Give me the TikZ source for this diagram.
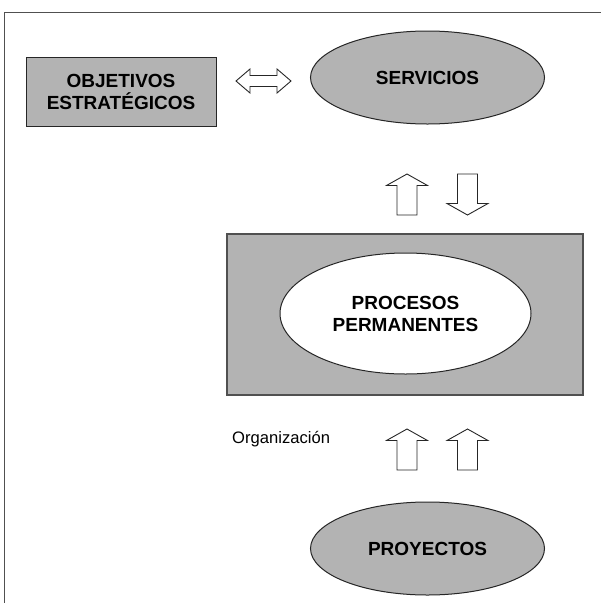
\documentclass[tikz,border=0pt]{standalone}
\usepackage{fontspec}
\setmainfont{Liberation Sans}
\usetikzlibrary{shapes.geometric}
\definecolor{relleno}{RGB}{179,179,179}
\definecolor{marco}{RGB}{80,80,80}
\tikzset{
  titulo/.style={font=\bfseries\fontsize{19}{22}\selectfont, align=center, inner sep=0pt},
  caja/.style={titulo, draw=black!85, fill=relleno, line width=1pt},
  elipse/.style={titulo, ellipse, draw=black!85, fill=relleno, line width=1pt},
  flecha/.style={draw=black!85, fill=white, line width=0.9pt, line join=miter},
  flechaarriba/.pic={
    \draw[flecha] (-10,0) -- (-10,-29.5) -- (-20.5,-29.5) -- (0,-41)
      -- (20.5,-29.5) -- (10,-29.5) -- (10,0) -- cycle;
  },
}

\begin{document}
\begin{tikzpicture}[x=1pt, y=-1pt]

    \useasboundingbox (0,0) rectangle (601,603);

    % marco
    \draw[marco, line width=1.6pt] (4.5,603) -- (4.5,12.5) -- (601,12.5);

    % bloque superior
    \node[caja, minimum width=190, minimum height=69] (objetivos) at (121,91.5)
        {OBJETIVOS\\ESTRAT\'EGICOS};
    \node[elipse, minimum width=234, minimum height=93] (servicios) at (427.5,77.5)
        {SERVICIOS};

    \draw[flecha] (236,81) -- (250,69) -- (250,75.5) -- (277,75.5) -- (277,69)
        -- (291,81) -- (277,93) -- (277,86.5) -- (250,86.5) -- (250,93) -- cycle;

    \pic at (407,215) {flechaarriba};
    \pic[rotate=180] at (467.5,174) {flechaarriba};

    % procesos
    \node[draw=marco, fill=relleno, line width=1.6pt, minimum width=356,
        minimum height=161, inner sep=0pt] (marcoprocesos) at (405,314.5) {};
    \node[elipse, fill=white, minimum width=251, minimum height=121] (procesos)
        at (405.5,313.5) {PROCESOS\\PERMANENTES};

    \node[anchor=base west, inner sep=0pt, font=\fontsize{16.6}{20}\selectfont]
        (organizacion) at (232,443) {Organizaci\'on};

    \pic at (407,470) {flechaarriba};
    \pic at (467.5,470) {flechaarriba};

    \node[elipse, minimum width=234, minimum height=93] (proyectos) at (427.5,548.5)
        {PROYECTOS};

\end{tikzpicture}
\end{document}
